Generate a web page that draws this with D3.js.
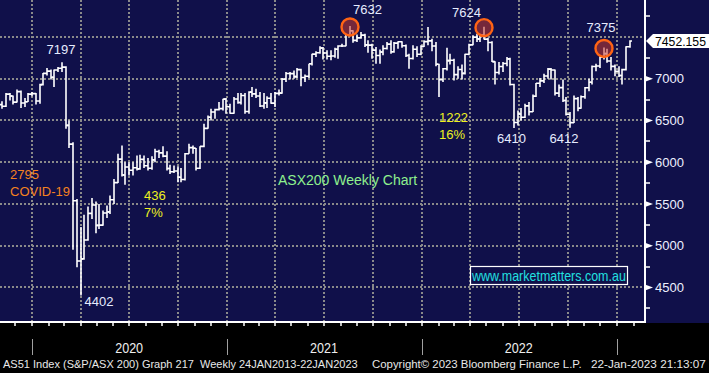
<!DOCTYPE html>
<html>
<head>
<meta charset="utf-8">
<script src="https://cdn.jsdelivr.net/npm/d3@7"></script>
<style>
  body { margin: 0; background: #000; }
  svg { display: block; }
</style>
</head>
<body>
<svg id="chart" width="709" height="373"></svg>
<script>
// AS51 weekly bars, Friday dates 01NOV2019 - 20JAN2023
var first_week = "2019-11-01";
var last_week = "2023-01-20";

var open = [
    6690,6670,6815,6793,6720,6846,6710,6724,6816,
    6821,6733,6929,7064,7091,7017,7104,7125,7139,6441,6217,5539,4816,4842,5068,5387,5487,5243,5246,5391,5405,5550,5755,6037,5847,5942,5904,5934,5920,6034,5958,5928,6028,6128,6112,6073,5925,5886,5895,5819,5792,6102,6175,6168,5927,6190,6405,6539,6601,6630,6642,6756,
    6665,6587,6757,6716,6800,6607,6840,6818,6793,6673,6711,6767,6708,6824,6828,6995,7063,7061,7025,7109,7014,7030,7179,7295,7312,7368,7308,7269,7273,7353,7393,7392,7523,7575,7460,7489,7522,7406,7403,7343,7278,7320,7363,7415,7324,7427,7443,7396,7279,7242,7354,7293,7387,
    7445,7453,7393,7174,6989,7120,7217,7221,7049,7111,7064,7293,7406,7499,7478,7523,7474,7435,7205,7075,7146,7182,7238,6931,6475,6578,6539,6675,6605,6791,6945,6974,7033,7115,7104,6828,6894,6740,6575,6474,6762,6646,6784,6892,6957,7146,7152,7259,7301,7213,7148,7088,
    7038,7109,7383
];
var high = [
    6730,6830,6830,6800,6870,6860,6770,6830,6840,
    6830,6940,7070,7130,7110,7110,7140,7197,7150,6500,6240,5560,5225,5370,5470,5570,5530,5500,5420,5480,5600,5800,6100,6200,6000,6000,6000,6080,6090,6080,6050,6070,6160,6150,6190,6130,5970,5960,5950,5930,6110,6220,6200,6170,6190,6460,6560,6640,6640,6720,6760,6770,
    6700,6780,6830,6830,6830,6850,6900,6880,6840,6830,6790,6830,6840,6870,7010,7080,7080,7100,7130,7120,7050,7180,7300,7330,7390,7380,7340,7340,7370,7400,7420,7530,7632,7580,7530,7560,7540,7460,7420,7380,7350,7400,7440,7460,7440,7450,7450,7410,7300,7400,7390,7400,7460,
    7620,7480,7440,7180,7130,7370,7300,7240,7150,7170,7300,7420,7520,7540,7540,7624,7490,7450,7210,7200,7200,7260,7250,6940,6620,6650,6700,6720,6810,6950,7010,7060,7130,7130,7110,6930,6990,6780,6600,6800,6780,6800,6900,7000,7160,7180,7270,7375,7360,7260,7170,7150,
    7120,7390,7460
];
var low = [
    6640,6660,6740,6690,6715,6650,6660,6720,6790,
    6690,6700,6920,7040,6990,6900,7080,7080,6400,6170,4950,4740,4402,4830,5060,5320,5150,5200,5240,5330,5380,5500,5750,5830,5730,5840,5840,5900,5910,5930,5900,5910,6000,6050,6060,5900,5860,5870,5760,5760,5780,6100,6100,5900,5920,6180,6400,6500,6520,6620,6620,6580,
    6580,6580,6700,6690,6580,6580,6780,6770,6660,6640,6650,6700,6660,6800,6820,6960,6990,7000,7010,6910,6960,7010,7160,7260,7300,7230,7230,7220,7250,7240,7380,7390,7510,7430,7440,7480,7380,7310,7240,7180,7180,7280,7350,7300,7310,7360,7370,7260,7120,7230,7260,7280,7380,
    7400,7330,7150,6780,6960,7100,7170,6980,7000,6990,7050,7280,7400,7440,7440,7470,7330,7200,6930,7050,7080,7150,6920,6410,6440,6500,6530,6560,6600,6780,6900,6950,7000,6990,6800,6780,6720,6560,6412,6470,6610,6640,6760,6850,6930,7090,7130,7230,7190,7100,7030,7020,
    6930,7100,7370
];
var close = [
    6670,6815,6793,6720,6846,6710,6724,6816,6821,
    6733,6929,7064,7091,7017,7104,7125,7139,6441,6217,5539,4816,4842,5068,5387,5487,5243,5246,5391,5405,5550,5755,6037,5847,5942,5904,5934,5920,6034,5958,5928,6028,6128,6112,6073,5925,5886,5895,5819,5792,6102,6175,6168,5927,6190,6405,6539,6601,6630,6642,6756,6665,
    6587,6757,6716,6800,6607,6840,6818,6793,6673,6711,6767,6708,6824,6828,6995,7063,7061,7025,7109,7014,7030,7179,7295,7312,7368,7308,7269,7273,7353,7393,7392,7523,7575,7460,7489,7522,7406,7403,7343,7278,7320,7363,7415,7324,7427,7443,7396,7279,7242,7354,7293,7387,7445,
    7453,7393,7174,6989,7120,7217,7221,7049,7111,7064,7293,7406,7499,7478,7523,7474,7435,7205,7075,7146,7182,7238,6931,6475,6578,6539,6675,6605,6791,6945,6974,7033,7115,7104,6828,6894,6740,6575,6474,6762,6646,6784,6892,6957,7146,7152,7259,7301,7213,7148,7088,7038,
    7109,7383,7452
];

var y_grid = [4500, 5000, 5500, 6000, 6500, 7000, 7500];
var y_labels = [4500, 5000, 5500, 6000, 6500, 7000];
var y_minor = [4250, 4750, 5250, 5750, 6250, 6750, 7250, 7750];
var years = [2020, 2021, 2022];
var last_price = "7452.155";

// circled peaks
var peak_weeks = ["2021-08-13", "2022-04-22", "2022-12-02"];
// highs / lows that get their value written next to them
var marked_weeks = ["2020-02-21", "2020-03-27", "2021-08-13", "2022-04-22", "2022-06-17", "2022-09-30", "2022-12-02"];
var marked_side = ["high", "low", "high", "high", "low", "low", "high"];

var notes = [
    ["2795", "COVID-19"],
    ["436", "7%"],
    ["1222", "16%"]
];
var footer = [
    "AS51 Index (S&P/ASX 200) Graph 217  Weekly 24JAN2013-22JAN2023",
    "Copyright\u00a9 2023 Bloomberg Finance L.P.",
    "22-Jan-2023 21:13:07"
];

var width = 709, height = 373;
var plot_right = 645, plot_bottom = 322;
var navy = "#10104a";
var font = "Liberation Sans, Arial, sans-serif";
var svg = d3.select("#chart");
var parse = d3.timeParse("%Y-%m-%d");

var weeks = d3.timeFriday.range(parse(first_week), d3.timeDay.offset(parse(last_week), 1));
var bars = weeks.map(function (d, i) {
    return { date: d, o: open[i], h: high[i], l: low[i], c: close[i] };
});

var x = d3.scaleTime()
    .domain([new Date(2020, 0, 1), new Date(2023, 0, 1)])
    .range([32, 617]);
var y = d3.scaleLinear()
    .domain([4500, 7500])
    .range([287.4, 37]);

function bx(d) { return Math.round(x(d) + 2.7); }
function find_bar(s) {
    var t = parse(s).getTime();
    return bars.filter(function (b) { return b.date.getTime() === t; })[0];
}

// squeeze a text horizontally so it spans exactly w pixels
function fit_text(sel, px, py, w) {
    var len = sel.node().getComputedTextLength();
    sel.attr("x", 0).attr("y", 0)
        .attr("transform", "translate(" + px + "," + py + ") scale(" + (w / len) + ",1)");
}

draw_background();
draw_grid();
draw_bars();
draw_peaks();
draw_axes();
add_labels();
add_footer();

function draw_background() {
    svg.append("rect").attr("width", width).attr("height", height).attr("fill", "#000");
    svg.append("rect").attr("width", width).attr("height", plot_bottom + 1).attr("fill", navy);
}

function draw_grid() {
    var g = svg.append("g")
        .attr("stroke", "#8a8a8a")
        .attr("stroke-width", 2)
        .attr("stroke-dasharray", "2,2")
        .attr("shape-rendering", "crispEdges");

    g.selectAll("line.h")
        .data(y_grid)
        .enter()
        .append("line")
        .attr("x1", 0).attr("x2", plot_right)
        .attr("y1", function (d) { return Math.round(y(d)); })
        .attr("y2", function (d) { return Math.round(y(d)); });

    var quarters = d3.timeMonth.every(3).range(new Date(2020, 0, 1), new Date(2023, 0, 2));
    g.selectAll("line.v")
        .data(quarters)
        .enter()
        .append("line")
        .attr("y1", 0).attr("y2", plot_bottom)
        .attr("x1", function (d) { return Math.round(x(d)); })
        .attr("x2", function (d) { return Math.round(x(d)); });
}

function draw_bars() {
    svg.append("g")
        .selectAll("path")
        .data(bars)
        .enter()
        .append("path")
        .attr("fill", "none")
        .attr("stroke", "#fff")
        .attr("stroke-width", 1.6)
        .attr("d", function (d) {
            var cx = bx(d.date);
            return "M" + cx + "," + y(d.h) + "V" + y(d.l) +
                "M" + (cx - 2) + "," + y(d.o) + "H" + cx +
                "M" + cx + "," + y(d.c) + "H" + (cx + 2);
        });
}

function draw_peaks() {
    svg.append("g")
        .selectAll("circle")
        .data(peak_weeks.map(find_bar))
        .enter()
        .append("circle")
        .attr("cx", function (d) { return bx(d.date); })
        .attr("cy", function (d) { return y(d.h) + 1; })
        .attr("r", 8.5)
        .attr("fill", "rgba(200,58,46,0.55)")
        .attr("stroke", "#ff6414")
        .attr("stroke-width", 2.4);
}

function draw_axes() {
    // plot frame: bottom and right
    svg.append("line")
        .attr("x1", 0).attr("x2", plot_right + 1)
        .attr("y1", plot_bottom).attr("y2", plot_bottom)
        .attr("stroke", "#fff").attr("stroke-width", 2);
    svg.append("line")
        .attr("x1", plot_right).attr("x2", plot_right)
        .attr("y1", 0).attr("y2", plot_bottom)
        .attr("stroke", "#fff").attr("stroke-width", 2);

    // month ticks
    var months = d3.timeMonth.range(new Date(2019, 11, 1), new Date(2023, 1, 2));
    svg.append("g")
        .selectAll("line")
        .data(months)
        .enter()
        .append("line")
        .attr("x1", function (d) { return Math.round(x(d)); })
        .attr("x2", function (d) { return Math.round(x(d)); })
        .attr("y1", plot_bottom).attr("y2", plot_bottom + 4)
        .attr("stroke", "#fff").attr("stroke-width", 1.5);

    // year separators and labels
    var starts = years.concat([2023]).map(function (d) { return new Date(d, 0, 1); });
    svg.append("g")
        .selectAll("line")
        .data(starts)
        .enter()
        .append("line")
        .attr("x1", function (d) { return Math.round(x(d)) + 0.5; })
        .attr("x2", function (d) { return Math.round(x(d)) + 0.5; })
        .attr("y1", 339).attr("y2", 355)
        .attr("stroke", "#a0a0a0").attr("stroke-width", 1);

    svg.append("g")
        .selectAll("text")
        .data(years)
        .enter()
        .append("text")
        .style("font-family", font)
        .style("font-size", "14px")
        .style("fill", "#eeeeee")
        .text(function (d) { return d; })
        .each(function (d) {
            fit_text(d3.select(this), x(new Date(d, 6, 1)) - 14, 353, 28);
        });

    // right axis
    svg.append("g")
        .selectAll("line")
        .data(y_minor)
        .enter()
        .append("line")
        .attr("x1", plot_right).attr("x2", plot_right + 5)
        .attr("y1", function (d) { return Math.round(y(d)); })
        .attr("y2", function (d) { return Math.round(y(d)); })
        .attr("stroke", "#fff").attr("stroke-width", 1.5);

    var lab = svg.append("g")
        .selectAll("g")
        .data(y_labels)
        .enter()
        .append("g")
        .attr("transform", function (d) { return "translate(" + plot_right + "," + y(d) + ")"; });
    lab.append("path")
        .attr("d", "M0,-3L8,0L0,3Z")
        .attr("fill", "#fff");
    lab.append("text")
        .attr("x", 10)
        .attr("y", 4.6)
        .style("font-family", font)
        .style("font-size", "13px")
        .style("fill", "#eef0ff")
        .text(function (d) { return d; });

    // last price flag
    var py = y(+last_price);
    var flag = svg.append("g").attr("transform", "translate(" + plot_right + "," + py + ")");
    flag.append("path")
        .attr("d", "M1,0L8,-7H64V7H8Z")
        .attr("fill", "#fff");
    var ft = flag.append("text")
        .style("font-family", font)
        .style("font-size", "13px")
        .style("fill", "#000")
        .text(last_price);
    fit_text(ft, 10, 4.6, 51);
}

function add_labels() {
    // offsets of each value label from its bar
    var offs = [[-1, -8, "middle"], [3.5, 10, "start"], [3, -12, "start"], [-3, -10, "end"],
                [-2.5, 15, "middle"], [-6, 15, "middle"], [-3, -15, "middle"]];

    svg.append("g")
        .selectAll("text")
        .data(marked_weeks)
        .enter()
        .append("text")
        .each(function (w, i) {
            var b = find_bar(w);
            var v = marked_side[i] === "high" ? b.h : b.l;
            d3.select(this)
                .attr("x", bx(b.date) + offs[i][0])
                .attr("y", y(v) + offs[i][1])
                .attr("text-anchor", offs[i][2])
                .text(v);
        })
        .style("font-family", font)
        .style("font-size", "13px")
        .style("fill", "#e6ecff");

    var note_pos = [[10, 179, "#f5821f"], [144, 200, "#eef020"], [439, 122, "#eef020"]];
    notes.forEach(function (n, i) {
        n.forEach(function (t, j) {
            svg.append("text")
                .attr("x", note_pos[i][0])
                .attr("y", note_pos[i][1] + j * 16.5)
                .style("font-family", font)
                .style("font-size", "13px")
                .style("fill", note_pos[i][2])
                .text(t);
        });
    });

    svg.append("text")
        .attr("x", 278)
        .attr("y", 185)
        .style("font-family", font)
        .style("font-size", "14px")
        .style("fill", "#8ef08e")
        .text("ASX200 Weekly Chart");

    svg.append("rect")
        .attr("x", 470.5).attr("y", 266.5)
        .attr("width", 157).attr("height", 18)
        .attr("fill", navy)
        .attr("stroke", "#fff").attr("stroke-width", 1.2);
    var wm = svg.append("text")
        .style("font-family", font)
        .style("font-size", "14px")
        .style("fill", "#22e0e0")
        .text("www.marketmatters.com.au");
    fit_text(wm, 472, 281, 154);
}

function add_footer() {
    var spans = [[3, 355], [372, 210], [591, 115]];
    svg.append("g")
        .selectAll("text")
        .data(footer)
        .enter()
        .append("text")
        .style("white-space", "pre")
        .style("font-family", font)
        .style("font-size", "11.5px")
        .style("fill", "#e8e8e8")
        .text(function (d) { return d; })
        .each(function (d, i) {
            fit_text(d3.select(this), spans[i][0], 368, spans[i][1]);
        });
}
</script>
</body>
</html>
